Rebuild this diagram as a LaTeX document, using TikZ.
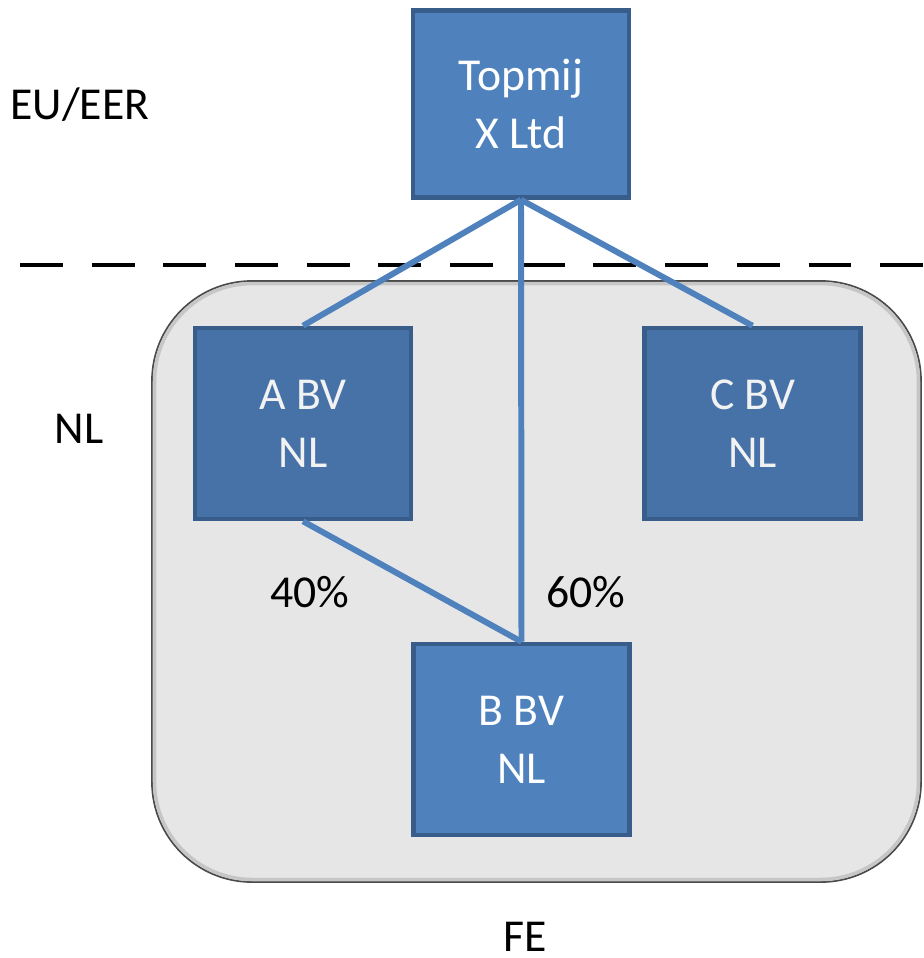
\documentclass[tikz,border=0pt]{standalone}
\usepackage{fontspec}
\setmainfont{Carlito}
\usetikzlibrary{positioning}

\definecolor{boxblue}{HTML}{4F81BD}
\definecolor{boxdark}{HTML}{4672A8}
\definecolor{boxedge}{HTML}{385D8A}
\definecolor{zonegray}{HTML}{E6E6E6}
\definecolor{zoneedge}{HTML}{4A4A4A}

\tikzset{
  entity/.style={draw=boxedge, line width=2.6pt, fill=boxblue, text=white, align=center,
    minimum width=4.32cm, minimum height=3.82cm, inner sep=0pt,
    font=\fontsize{26}{33}\selectfont},
  subsid/.style={entity, fill=boxdark, text=white!90!gray},
  link/.style={boxblue, line width=3.4pt},
  zonetext/.style={anchor=base, inner sep=0pt, font=\fontsize{26}{31}\selectfont}
}

\begin{document}
\begin{tikzpicture}[x=0.02cm, y=-0.02cm]
\useasboundingbox (0,0) rectangle (924,958);

% zone NL
\draw[fill=zonegray, draw=zoneedge, line width=1pt, rounded corners=2cm] (152,281) rectangle (921,882);
\draw[draw=gray!45, line width=2pt, rounded corners=1.96cm] (154.5,283.5) rectangle (918.5,879.5);

% border EU/EER
\coordinate (d1) at (20,265);
\coordinate (d2) at (924,265);
\draw[line width=2.3pt, dash pattern=on 24.4pt off 16.4pt] (d1) -- (d2);

\node[entity, minimum height=3.74cm] (top) at (521,104) {Topmij\\X Ltd};
\node[subsid] (a) at (303,423.5) {A BV\\NL};
\node[subsid] (c) at (752.5,423.5) {C BV\\NL};
\node[entity] (b) at (521.5,739.5) {B BV\\NL};

\draw[link] (top.south) -- (a.north);
\draw[link] (top.south) -- (b.north);
\draw[link] (top.south) -- (c.north);
\draw[link] (a.south) -- (b.north);

\node[zonetext] (eu) at (80,119) {EU/EER};
\node[zonetext] (nl) at (79,443) {NL};
\node[zonetext] (pa) at (310,607) {40\%};
\node[zonetext] (pb) at (586,607) {60\%};
\node[zonetext] (fe) at (525,951) {FE};

\end{tikzpicture}
\end{document}
